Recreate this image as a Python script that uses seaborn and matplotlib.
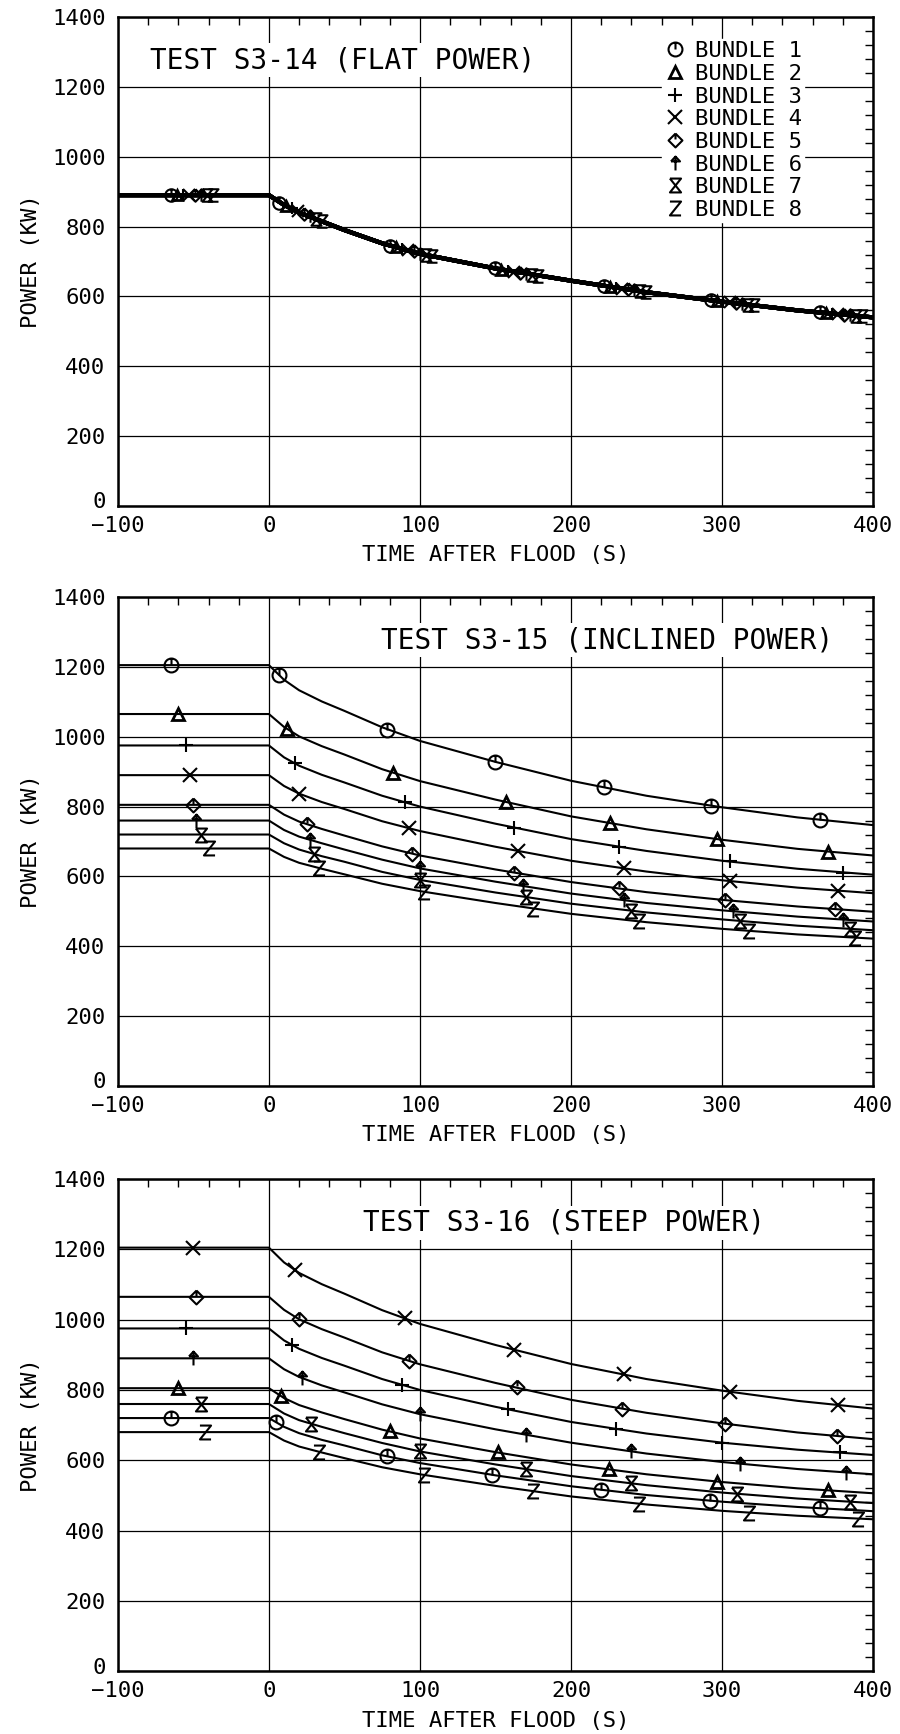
import matplotlib
matplotlib.use("Agg")
import matplotlib.pyplot as plt
import matplotlib.transforms as mtransforms
import numpy as np
import pandas as pd
import seaborn as sns
from matplotlib.path import Path
from matplotlib.lines import Line2D
from matplotlib.ticker import MultipleLocator

# ---------------- data ----------------
TIME = [-100, 0, 10, 20, 35, 50, 75, 100, 150, 200, 250, 300, 350, 400]
BUNDLES = ["BUNDLE 1", "BUNDLE 2", "BUNDLE 3", "BUNDLE 4",
           "BUNDLE 5", "BUNDLE 6", "BUNDLE 7", "BUNDLE 8"]
X_TICKS = [-100, 0, 100, 200, 300, 400]
Y_TICKS = [0, 200, 400, 600, 800, 1000, 1200, 1400]

# Test S3-14 (flat power): all bundles follow the same curve
FLAT_POWER = [890, 890, 862, 840, 815, 790, 752, 722, 680, 645, 612, 585, 560, 540]
FLAT_MK_T = [[-65, 7, 80, 150, 222, 293, 365],
             [-61, 11, 84, 154, 226, 297, 369],
             [-57, 15, 88, 158, 230, 301, 373],
             [-53, 19, 92, 162, 234, 305, 377],
             [-49, 23, 96, 166, 238, 309, 381],
             [-45, 27, 100, 170, 242, 313, 385],
             [-41, 31, 104, 174, 246, 317, 389],
             [-37, 35, 108, 178, 250, 321, 393]]
FLAT_MK_P = [[890, 868, 745, 680, 630, 589, 555],
             [890, 860, 741, 677, 628, 587, 553],
             [890, 853, 737, 674, 625, 585, 551],
             [890, 845, 733, 671, 622, 583, 549],
             [890, 837, 729, 668, 620, 580, 548],
             [890, 830, 722, 665, 617, 578, 546],
             [890, 823, 719, 662, 615, 576, 544],
             [890, 815, 716, 659, 612, 574, 543]]

# Test S3-15 (inclined power)
INCL_B1 = [1205, 1205, 1163, 1133, 1101, 1074, 1027, 988, 928, 874, 831, 798, 769, 747]
INCL_B2 = [1065, 1065, 1028, 1001, 973, 949, 907, 873, 820, 772, 735, 705, 679, 660]
INCL_B3 = [975, 975, 941, 917, 891, 869, 831, 800, 751, 707, 673, 645, 622, 605]
INCL_B4 = [890, 890, 859, 837, 813, 793, 758, 730, 685, 645, 614, 589, 568, 552]
INCL_B5 = [805, 805, 777, 757, 736, 717, 686, 660, 620, 584, 555, 533, 514, 499]
INCL_B6 = [760, 760, 733, 714, 695, 677, 648, 623, 585, 551, 524, 503, 485, 471]
INCL_B7 = [720, 720, 695, 677, 658, 642, 613, 590, 554, 522, 497, 477, 459, 446]
INCL_B8 = [680, 680, 656, 639, 622, 606, 579, 558, 524, 493, 469, 450, 434, 422]
INCL_MK_T = [[-65, 7, 78, 150, 222, 293, 365],
             [-60, 12, 82, 157, 226, 297, 370],
             [-55, 17, 90, 162, 232, 305, 380],
             [-52, 20, 93, 165, 235, 305, 377],
             [-50, 25, 95, 162, 232, 302, 375],
             [-48, 27, 100, 168, 235, 307, 380],
             [-45, 30, 100, 170, 240, 312, 385],
             [-40, 33, 103, 175, 245, 318, 388]]
INCL_MK_P = [[1205, 1177, 1018, 928, 856, 801, 762],
             [1065, 1022, 895, 813, 753, 706, 671],
             [975, 924, 812, 739, 685, 644, 610],
             [890, 837, 738, 672, 623, 587, 558],
             [805, 749, 665, 610, 566, 532, 506],
             [760, 703, 623, 572, 532, 501, 476],
             [720, 664, 590, 542, 502, 473, 450],
             [680, 624, 556, 508, 471, 444, 425]]

# Test S3-16 (steep power)
STEEP_B1 = [720, 720, 695, 677, 658, 642, 614, 592, 557, 526, 501, 482, 467, 455]
STEEP_B2 = [805, 805, 777, 757, 736, 717, 687, 662, 623, 588, 560, 538, 520, 506]
STEEP_B3 = [975, 975, 941, 917, 891, 869, 831, 800, 752, 709, 676, 650, 630, 615]
STEEP_B4 = [1205, 1205, 1163, 1133, 1101, 1074, 1027, 988, 928, 874, 831, 798, 769, 747]
STEEP_B5 = [1065, 1065, 1028, 1001, 973, 949, 907, 873, 820, 772, 735, 705, 679, 660]
STEEP_B6 = [890, 890, 859, 837, 813, 793, 759, 731, 688, 650, 619, 595, 575, 560]
STEEP_B7 = [760, 760, 733, 714, 695, 677, 649, 625, 588, 555, 529, 508, 491, 478]
STEEP_B8 = [680, 680, 656, 639, 622, 606, 580, 560, 527, 497, 474, 456, 442, 432]
STEEP_MK_T = [[-65, 5, 78, 148, 220, 292, 365],
              [-60, 8, 80, 152, 225, 297, 370],
              [-55, 15, 88, 158, 230, 300, 378],
              [-50, 17, 90, 162, 235, 305, 377],
              [-48, 20, 93, 164, 234, 302, 376],
              [-50, 22, 100, 170, 240, 312, 382],
              [-45, 28, 100, 170, 240, 310, 385],
              [-42, 33, 103, 175, 245, 318, 390]]
STEEP_MK_P = [[720, 708, 611, 558, 516, 485, 463],
              [805, 783, 682, 622, 574, 539, 514],
              [975, 929, 815, 745, 689, 650, 622],
              [1205, 1142, 1004, 915, 844, 795, 757],
              [1065, 1001, 883, 807, 747, 704, 669],
              [890, 834, 731, 673, 625, 590, 565],
              [760, 704, 625, 575, 534, 505, 482],
              [680, 624, 558, 512, 476, 451, 434]]

TITLES = ["TEST S3-14 (FLAT POWER)",
          "TEST S3-15 (INCLINED POWER)",
          "TEST S3-16 (STEEP POWER)"]

# ---------------- markers ----------------
M, L = Path.MOVETO, Path.LINETO

circ = Path.unit_circle()
MK_CIRCLE = Path.make_compound_path(circ, Path([(0, 0), (0, 1)], [M, L]))
MK_DIAMOND = Path.make_compound_path(
    Path([(0, 1), (1, 0), (0, -1), (-1, 0), (0, 1)], [M, L, L, L, L]),
    Path([(0, 0.15), (0, 0.85)], [M, L]))
MK_ARROW = Path([(0, -1), (0, 1), (-0.65, 0.3), (0, 1), (0.65, 0.3), (-0.65, 0.3)],
                [M, L, M, L, L, L])
MK_HOUR = Path([(-0.8, 1), (0.8, 1), (-0.8, -1), (0.8, -1), (-0.8, 1)],
               [M, L, L, L, L])
MK_Z = Path([(-0.8, 1), (0.8, 1), (-0.8, -1), (0.8, -1)], [M, L, L, L])
MARKERS = [MK_CIRCLE, "^", "+", "x", MK_DIAMOND, MK_ARROW, MK_HOUR, MK_Z]

# ---------------- style ----------------
sns.set_theme(style="white")
plt.rcParams["font.family"] = ["DejaVu Sans Mono", "DejaVu Sans"]
for key in ["axes.edgecolor", "text.color", "axes.labelcolor", "xtick.color", "ytick.color"]:
    plt.rcParams[key] = "black"

fig = plt.figure(figsize=(9, 17.34), dpi=100)
rects = [[0.131, 0.7082, 0.839, 0.282],
         [0.131, 0.3737, 0.839, 0.282],
         [0.131, 0.0363, 0.839, 0.2837]]
axes = [fig.add_axes(r) for r in rects]

line_sets = [[FLAT_POWER] * 8,
             [INCL_B1, INCL_B2, INCL_B3, INCL_B4, INCL_B5, INCL_B6, INCL_B7, INCL_B8],
             [STEEP_B1, STEEP_B2, STEEP_B3, STEEP_B4, STEEP_B5, STEEP_B6, STEEP_B7, STEEP_B8]]
mk_t_sets = [FLAT_MK_T, INCL_MK_T, STEEP_MK_T]
mk_p_sets = [FLAT_MK_P, INCL_MK_P, STEEP_MK_P]
title_pos = [(0.042, 0.912, "left"), (0.947, 0.912, "right"), (0.3245, 0.911, "left")]

for i, ax in enumerate(axes):
    rows = []
    for b, vals in zip(BUNDLES, line_sets[i]):
        for t, p in zip(TIME, vals):
            rows.append((b, t, p))
    df = pd.DataFrame(rows, columns=["bundle", "time", "power"])
    lw = 3.0 if i == 0 else 1.5
    sns.lineplot(data=df, x="time", y="power", units="bundle", estimator=None,
                 color="black", lw=lw, ax=ax, zorder=3)
    ms = 9 if i == 0 else 10
    for k in range(8):
        mk = MARKERS[k]
        ax.plot(mk_t_sets[i][k], mk_p_sets[i][k], ls="none", marker=mk,
                ms=(ms * 0.8 if mk == "^" else ms), mfc="none", mec="black",
                mew=1.5 if mk != "^" else 2.0, zorder=4, clip_on=False)

    ax.set_xlim(-100, 400)
    ax.set_ylim(0, 1400)
    ax.set_xticks(X_TICKS)
    ax.set_yticks(Y_TICKS)
    ax.xaxis.set_minor_locator(MultipleLocator(20))
    ax.yaxis.set_minor_locator(MultipleLocator(40))
    ax.tick_params(which="both", direction="in", top=True, right=True)
    ax.tick_params(which="major", length=0, labelsize=16)
    ax.tick_params(axis="x", which="major", pad=7)
    ax.tick_params(axis="y", which="major", pad=9)
    ax.tick_params(which="minor", length=6, width=1.0)
    ax.grid(True, which="major", color="black", lw=0.9)
    ax.set_axisbelow(True)
    for s in ax.spines.values():
        s.set_linewidth(1.8)
        s.set_color("black")
    ax.set_xlabel("TIME AFTER FLOOD (S)", fontsize=16, labelpad=7)
    ax.set_ylabel("POWER (KW)", fontsize=16, labelpad=8)
    x, y, ha = title_pos[i]
    ax.text(x, y, TITLES[i], transform=ax.transAxes, fontsize=20, ha=ha, va="center",
            zorder=5, bbox=dict(facecolor="white", edgecolor="none", pad=2))
    # lift the "0" of the power axis slightly, as in the original
    fig.canvas.draw()
    ylab0 = ax.get_yticklabels()[0]
    ylab0.set_transform(ylab0.get_transform() +
                        mtransforms.ScaledTranslation(0, 4 / 72, fig.dpi_scale_trans))

handles = [Line2D([], [], ls="none", marker=MARKERS[k], ms=(8 if MARKERS[k] == "^" else 10),
                  mfc="none", mec="black", mew=1.5 if MARKERS[k] != "^" else 2.0)
           for k in range(8)]
leg = axes[0].legend(handles, BUNDLES, loc="upper left", bbox_to_anchor=(0.72, 0.955),
                     fontsize=16, frameon=True, fancybox=False, framealpha=1.0,
                     edgecolor="white", facecolor="white", borderpad=0.1,
                     handlelength=1.0, handletextpad=0.4, labelspacing=0.12,
                     borderaxespad=0)
leg.set_zorder(6)

fig.savefig("out.png", dpi=100)
